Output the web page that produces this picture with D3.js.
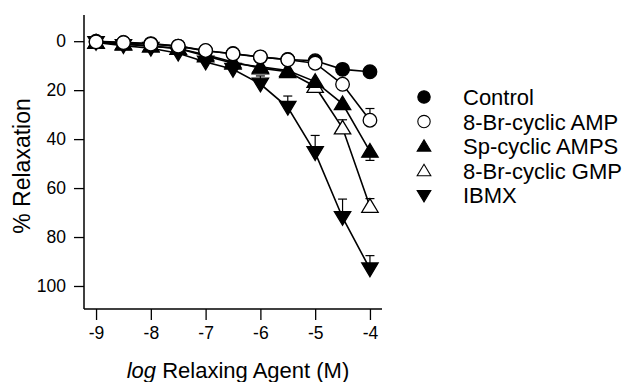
<!DOCTYPE html>
<html>
<head>
<meta charset="utf-8">
<script src="https://cdn.jsdelivr.net/npm/d3@7"></script>
<style>
  html, body { margin: 0; padding: 0; background: #fff; }
  svg { display: block; font-family: "Liberation Sans", Arial, Helvetica, sans-serif; }
</style>
</head>
<body>
<svg id="chart" width="626" height="382"></svg>
<script>
// ---- data ----
const logConc = [-9, -8.5, -8, -7.5, -7, -6.5, -6, -5.5, -5, -4.5, -4];
const seriesNames = ["Control", "8-Br-cyclic AMP", "Sp-cyclic AMPS", "8-Br-cyclic GMP", "IBMX"];
const control   = [0, 0.5, 1, 2, 4, 5, 6.5, 7.5, 8, 11.5, 12.5];
const brcAMP    = [0.3, 0.6, 1.2, 2, 3.8, 5.2, 6.4, 7.6, 9, 17.6, 32.3];
const spcAMPS   = [0.5, 1, 2, 3, 6, 9, 10.5, 12, 16.5, 25.6, 45];
const brcGMP    = [0.5, 1.2, 2, 3, 5.5, 8.5, 11, 12.5, 18.5, 35.5, 67.5];
const ibmx      = [0.5, 1.8, 2.9, 4.9, 8.5, 11.5, 17.5, 27, 45.5, 72, 93];
// SEM (toward smaller % relaxation = upward on chart)
const controlErrUp = [0, 0, 0, 0, 0, 0, 0, 0, 0, 1, 1];
const brcAMPErrUp  = [0, 0, 0, 0, 0, 0, 0, 0, 0, 1.5, 4.8];
const spcAMPSErrDn = [0, 0, 0, 0, 0, 0, 0, 0, 0, 0, 3.7];
const brcGMPErrUp  = [0, 0, 0, 0, 0, 0, 0, 0, 0, 3.4, 3.2];
const ibmxErrUp    = [0, 0, 0, 0, 0, 0, 3.3, 4.6, 7, 7.5, 5.4];
const xTicks = [-9, -8, -7, -6, -5, -4];
const xTickLabels = ["-9", "-8", "-7", "-6", "-5", "-4"];
const yTicks = [0, 20, 40, 60, 80, 100];

// ---- layout ----
const svg = d3.select("#chart");
const x = d3.scaleLinear().domain([-9.22, -3.78]).range([84, 382]);
const y = d3.scaleLinear().domain([-10.7, 109.4]).range([15, 309]);

// marker shapes
function markerPath(kind, s) {
  if (kind === "up") return `M0,${-s}L${s*1.05},${s*0.75}L${-s*1.05},${s*0.75}Z`;
  if (kind === "down") return `M0,${s}L${s*1.05},${-s*0.75}L${-s*1.05},${-s*0.75}Z`;
  return d3.symbol(d3.symbolCircle, Math.PI * s * s)();
}

const series = [
  { name: seriesNames[0], vals: control, errUp: controlErrUp, errDn: null, kind: "circle", fill: "#000" },
  { name: seriesNames[3], vals: brcGMP, errUp: brcGMPErrUp, errDn: null, kind: "up", fill: "#fff" },
  { name: seriesNames[2], vals: spcAMPS, errUp: null, errDn: spcAMPSErrDn, kind: "up", fill: "#000" },
  { name: seriesNames[4], vals: ibmx, errUp: ibmxErrUp, errDn: null, kind: "down", fill: "#000" },
  { name: seriesNames[1], vals: brcAMP, errUp: brcAMPErrUp, errDn: null, kind: "circle", fill: "#fff" }
];

// ---- axes ----
const yAxis = svg.append("g").attr("transform", "translate(84,0)")
  .call(d3.axisLeft(y).tickValues(yTicks).tickSize(10).tickSizeOuter(0).tickPadding(8));
yAxis.select(".domain").attr("d", `M0,${y.range()[0]}V${y.range()[1]}`).attr("stroke-width", 1.5);
yAxis.selectAll(".tick line").attr("stroke-width", 1.3);
yAxis.selectAll("text").attr("font-size", 17.5).attr("fill", "#000");

const xAxis = svg.append("g").attr("transform", "translate(0,309)")
  .call(d3.axisBottom(x).tickValues(xTicks).tickSize(11).tickSizeOuter(0).tickPadding(7)
    .tickFormat((d, i) => xTickLabels[i]));
xAxis.select(".domain").attr("d", `M${x.range()[0]},0H${x.range()[1]}`).attr("stroke-width", 1.5);
xAxis.selectAll(".tick line").attr("stroke-width", 1.3);
xAxis.selectAll("text").attr("font-size", 17.5).attr("fill", "#000");

// axis titles
const xt = svg.append("text").attr("x", 238).attr("y", 378).attr("text-anchor", "middle")
  .attr("font-size", 22).attr("fill", "#000");
xt.append("tspan").attr("font-style", "italic").text("log");
xt.append("tspan").text(" Relaxing Agent (M)");

svg.append("text").attr("transform", "translate(30,166) rotate(-90)")
  .attr("text-anchor", "middle").attr("font-size", 23).attr("fill", "#000").text("% Relaxation");

// ---- series ----
const line = d3.line().x((d, i) => x(logConc[i])).y(d => y(d));
series.forEach(s => {
  const g = svg.append("g");
  // error bars
  logConc.forEach((c, i) => {
    const e = s.errUp ? s.errUp[i] : (s.errDn ? s.errDn[i] : 0);
    if (!e) return;
    const y0 = y(s.vals[i]);
    const y1 = s.errUp ? y(s.vals[i] - e) : y(s.vals[i] + e);
    g.append("line").attr("x1", x(c)).attr("x2", x(c)).attr("y1", y0).attr("y2", y1)
      .attr("stroke", "#000").attr("stroke-width", 1.2);
    g.append("line").attr("x1", x(c) - 4.5).attr("x2", x(c) + 4.5).attr("y1", y1).attr("y2", y1)
      .attr("stroke", "#000").attr("stroke-width", 1.2);
  });
  g.append("path").datum(s.vals).attr("d", line).attr("fill", "none")
    .attr("stroke", "#000").attr("stroke-width", 1.6);
  g.selectAll("path.m").data(s.vals).enter().append("path").attr("class", "m")
    .attr("transform", (d, i) => `translate(${x(logConc[i])},${y(d)})`)
    .attr("d", markerPath(s.kind, s.kind === "circle" ? 6.8 : 7.8))
    .attr("fill", s.fill).attr("stroke", "#000").attr("stroke-width", 1.3);
});

// ---- legend ----
const legendKinds = { "Control": ["circle", "#000"], "8-Br-cyclic AMP": ["circle", "#fff"],
  "Sp-cyclic AMPS": ["up", "#000"], "8-Br-cyclic GMP": ["up", "#fff"], "IBMX": ["down", "#000"] };
const leg = svg.append("g");
seriesNames.forEach((n, i) => {
  const ly = 97 + i * 24.6;
  const k = legendKinds[n];
  leg.append("path").attr("transform", `translate(424,${ly})`)
    .attr("d", markerPath(k[0], k[0] === "circle" ? 6.2 : 6.5))
    .attr("fill", k[1]).attr("stroke", "#000").attr("stroke-width", 1.1);
  leg.append("text").attr("x", 463).attr("y", ly).attr("dy", "0.36em")
    .attr("font-size", 22).attr("fill", "#000").text(n);
});
</script>
</body>
</html>
